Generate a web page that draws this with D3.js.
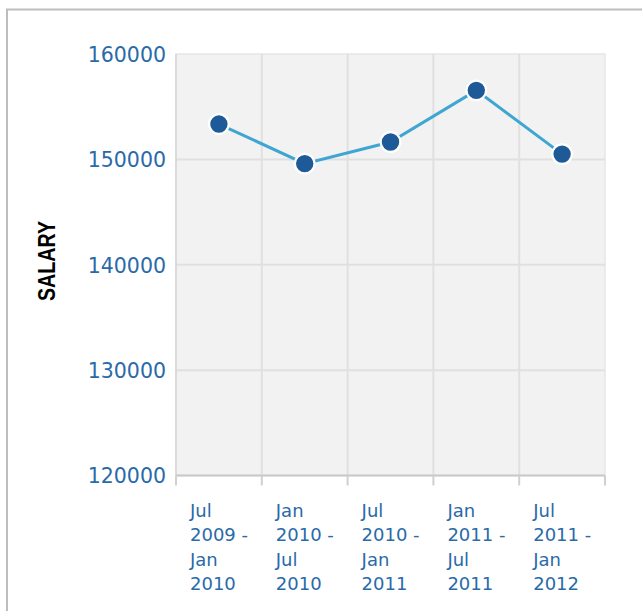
<!DOCTYPE html>
<html>
<head>
<meta charset="utf-8">
<script src="https://cdn.jsdelivr.net/npm/d3@7"></script>
<style>
html,body{margin:0;padding:0;background:#fff;overflow:hidden;}
svg{display:block;}
</style>
</head>
<body>
<script>
const categories = [
  ["Jul", "2009 -", "Jan", "2010"],
  ["Jan", "2010 -", "Jul", "2010"],
  ["Jul", "2010 -", "Jan", "2011"],
  ["Jan", "2011 -", "Jul", "2011"],
  ["Jul", "2011 -", "Jan", "2012"]
];
const salary = [153350, 149600, 151650, 156550, 150500];
const yTicks = [120000, 130000, 140000, 150000, 160000];
const yTitle = "SALARY";

(function () {
const W = 642, H = 611;
const svg = d3.select("body").append("svg").attr("width", W).attr("height", H);

// outer frame
svg.append("rect").attr("x", 7).attr("y", 9.5).attr("width", 700).attr("height", 700)
  .attr("fill", "#fff").attr("stroke", "#bdbdbd").attr("stroke-width", 2);

const pL = 176, pR = 605, pT = 54, pB = 475.5;
const x = d3.scaleBand().domain(d3.range(categories.length)).range([pL, pR]);
const y = d3.scaleLinear().domain([120000, 160000]).range([pB, pT]);

// plot background
svg.append("rect").attr("x", pL).attr("y", pT).attr("width", pR - pL).attr("height", pB - pT)
  .attr("fill", "#f2f2f2").attr("stroke", "#e6e6e6").attr("stroke-width", 1.5);

// horizontal grid
svg.append("g").selectAll("line").data(yTicks.slice(1, -1)).join("line")
  .attr("x1", pL).attr("x2", pR).attr("y1", d => y(d)).attr("y2", d => y(d))
  .attr("stroke", "#e0e0e0").attr("stroke-width", 2);

// vertical grid
svg.append("g").selectAll("line").data(d3.range(1, categories.length)).join("line")
  .attr("x1", d => x(d)).attr("x2", d => x(d)).attr("y1", pT).attr("y2", pB)
  .attr("stroke", "#e0e0e0").attr("stroke-width", 2);

// y axis line
svg.append("line").attr("x1", pL).attr("x2", pL).attr("y1", pT).attr("y2", pB)
  .attr("stroke", "#d6d6d6").attr("stroke-width", 1.5);

// x axis
const xAxis = d3.axisBottom(x).tickSize(0).tickFormat("");
const gx = svg.append("g").attr("transform", `translate(0,${pB})`).call(xAxis);
gx.select(".domain").remove();
svg.append("line").attr("x1", pL).attr("x2", pR).attr("y1", pB).attr("y2", pB)
  .attr("stroke", "#c8c8c8").attr("stroke-width", 2);
const bounds = d3.range(0, categories.length).map(i => x(i)).concat([x.range()[1]]);
svg.append("g").selectAll("line").data(bounds).join("line")
  .attr("x1", d => d).attr("x2", d => d).attr("y1", pB).attr("y2", pB + 10)
  .attr("stroke", "#d0d0d0").attr("stroke-width", 2);

// x labels
const xl = svg.append("g").selectAll("text").data(categories).join("text")
  .attr("x", (d, i) => x(i) + 14).attr("y", pB + 41)
  .attr("font-family", "DejaVu Sans").attr("font-size", 18).attr("fill", "#2a6aa8");
xl.each(function (d, i) {
  const t = d3.select(this);
  d.forEach((s, j) => {
    t.append("tspan").attr("x", x(i) + 14).attr("dy", j === 0 ? 0 : 24.5).text(s);
  });
});

// y labels
const yAxis = d3.axisLeft(y).tickValues(yTicks).tickSize(0).tickPadding(10).tickFormat(d3.format("d"));
const gy = svg.append("g").attr("transform", `translate(${pL},0)`).call(yAxis);
gy.select(".domain").remove();
gy.selectAll("text").attr("font-family", "DejaVu Sans").attr("font-size", 20.5).attr("fill", "#2a6aa8")
  .attr("dy", "0.36em");

// y title
svg.append("text").attr("transform", "translate(55,261) rotate(-90)")
  .attr("text-anchor", "middle").attr("font-family", "Liberation Sans").attr("font-weight", "bold")
  .attr("font-size", 23).attr("fill", "#000")
  .attr("textLength", 80).attr("lengthAdjust", "spacingAndGlyphs")
  .text(yTitle);

// line
const line = d3.line().x((d, i) => x(i) + x.bandwidth() / 2).y(d => y(d));
svg.append("path").datum(salary).attr("d", line).attr("fill", "none")
  .attr("stroke", "#3fa6d3").attr("stroke-width", 3);

// points
svg.append("g").selectAll("circle").data(salary).join("circle")
  .attr("cx", (d, i) => x(i) + x.bandwidth() / 2).attr("cy", d => y(d)).attr("r", 9.8)
  .attr("fill", "#1e5a97").attr("stroke", "#fff").attr("stroke-width", 2.2);
})();
</script>
</body>
</html>
